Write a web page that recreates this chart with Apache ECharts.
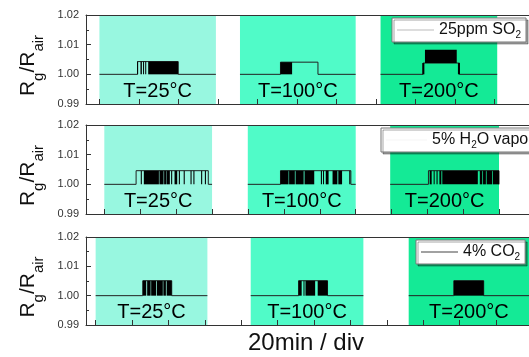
<!DOCTYPE html>
<html>
<head>
<meta charset="utf-8">
<script src="https://cdn.jsdelivr.net/npm/echarts@6/dist/echarts.min.js"></script>
<style>
  html, body { margin: 0; padding: 0; background: #fff; }
  #chart { width: 529px; height: 357px; }
</style>
</head>
<body>
<div id="chart"></div>
<script>
// gas per panel (top to bottom)
const gasNames = ['25ppm SO2', '5% H2O vapor', '4% CO2'];
const tempLabels = ['T=25°C', 'T=100°C', 'T=200°C'];

// time axis, minutes (20 min / div)
const xRanges = [[-6.8, 217.6], [-10.2, 236.5], [-5.3, 238.1]];
const xTicks = [0, 20, 40, 60, 80, 100, 120, 140, 160, 180, 200, 220];
const yTicks = [0.99, 1.00, 1.01, 1.02];

// heated windows [start, end] per panel
const regions1 = [[0, 59], [71.2, 129.8], [142.4, 201.5]];
const regions2 = [[0, 60], [79.9, 140], [159.2, 219.8]];
const regions3 = [[0, 61.4], [85.2, 147.1], [172, 240]];

// Rg/Rair trace, '-' breaks the line between windows
const signal1 = [
  [0, 1], [19.3, 1], [19.3, 1.0043], [39.9, 1.0043], [39.9, 1], [59, 1], ['-', '-'],
  [71.2, 1], [91.7, 1], [91.7, 1.0041], [110.7, 1.0041], [110.7, 1], [129.8, 1], ['-', '-'],
  [142.4, 1], [163.9, 1], [163.9, 1.0038], [182.4, 1.0038], [182.4, 1], [201.5, 1]
];
const signal2 = [
  [0, 1], [17.7, 1], [17.7, 1.0046], [57.9, 1.0046], [57.9, 1], [60, 1], ['-', '-'],
  [79.9, 1], [98.1, 1], [98.1, 1.0046], [137.3, 1.0046], [137.3, 1], [140, 1], ['-', '-'],
  [159.2, 1], [180.5, 1], [180.5, 1.0046], [219.8, 1.0046], [219.8, 1]
];
const signal3 = [
  [0, 1], [25.9, 1], [25.9, 1.0051], [41.8, 1.0051], [41.8, 1], [61.4, 1], ['-', '-'],
  [85.2, 1], [111.5, 1], [111.5, 1.0051], [127.4, 1.0051], [127.4, 1], [147.1, 1], ['-', '-'],
  [172, 1], [196.8, 1], [196.8, 1.0051], [213.2, 1.0051], [213.2, 1], [240, 1]
];

// dense switching bursts drawn solid: [t0, t1, low, high]
const bursts1 = [
  [19.1, 19.6, 1, 1.0043], [20.8, 21.5, 1, 1.0043], [22.1, 22.6, 1, 1.0043],
  [23.2, 23.7, 1, 1.0043], [24.7, 39.9, 1, 1.0043],
  [91.7, 97.6, 1, 1.0041],
  [163.6, 164.6, 1, 1.0038], [181.6, 182.6, 1, 1.0038], [164.9, 181.0, 1.0038, 1.0083]
];
const bursts2 = [
  [20.3, 20.9, 1, 1.0046], [22.0, 30.4, 1, 1.0046], [30.7, 33.0, 1, 1.0046],
  [33.3, 34.4, 1, 1.0046], [34.6, 36.5, 1, 1.0046], [37.2, 37.8, 1, 1.0046],
  [39.1, 40.6, 1, 1.0046], [41.5, 42.1, 1, 1.0046], [44.2, 44.8, 1, 1.0046],
  [48.0, 48.6, 1, 1.0046], [49.6, 50.2, 1, 1.0046], [53.9, 54.5, 1, 1.0046],
  [56.0, 56.6, 1, 1.0046],
  [98.1, 102.6, 1, 1.0046], [102.9, 106.1, 1, 1.0046], [106.5, 111.0, 1, 1.0046],
  [111.5, 116.9, 1, 1.0046], [120.6, 121.2, 1, 1.0046], [121.8, 122.3, 1, 1.0046],
  [123.3, 124.9, 1, 1.0046], [127.1, 129.8, 1, 1.0046], [130.3, 132.4, 1, 1.0046],
  [136.4, 137.0, 1, 1.0046],
  [181.2, 182.3, 1, 1.0046], [183.4, 183.9, 1, 1.0046], [185.0, 185.6, 1, 1.0046],
  [186.6, 187.7, 1, 1.0046], [188.2, 208.0, 1, 1.0046], [209.1, 210.5, 1, 1.0046],
  [210.9, 212.5, 1, 1.0046], [212.9, 215.9, 1, 1.0046], [216.3, 219.8, 1, 1.0046]
];
const bursts3 = [
  [25.9, 27.8, 1, 1.0051], [28.3, 30.2, 1, 1.0051], [30.5, 33.3, 1, 1.0051],
  [33.7, 36.9, 1, 1.0051], [37.2, 38.6, 1, 1.0051], [39.0, 41.8, 1, 1.0051],
  [111.5, 113.2, 1, 1.0051], [114.2, 114.6, 1, 1.0051], [115.3, 120.6, 1, 1.0051],
  [122.0, 127.4, 1, 1.0051],
  [196.8, 213.2, 1, 1.0051]
];

const regions = [regions1, regions2, regions3];
const signals = [signal1, signal2, signal3];
const bursts = [bursts1, bursts2, bursts3];

const FONT = '"Liberation Sans", Arial, sans-serif';
const tempColors = ['#98f7e0', '#50fbc8', '#14ea96'];
const gridTops = [15, 125, 237];
const gridHeights = [89, 89, 88];
const legendPos = [[392, 18], [381, 128], [416, 240]];
const legendIconWidth = [37, 41, 37];
const legendIconColors = ['#bbbbbb', '#f6f6f6', '#444444'];

const chart = echarts.init(document.getElementById('chart'), null, { renderer: 'canvas' });

const panels = [0, 1, 2];

const xAxes = panels.map(i => ({
  type: 'value',
  gridIndex: i,
  min: xRanges[i][0],
  max: xRanges[i][1],
  splitNumber: 11,
  z: 10,
  axisLine: { show: true, onZero: false, lineStyle: { color: '#333', width: 1 } },
  axisTick: { show: true, inside: true, length: 5, customValues: xTicks, lineStyle: { color: '#333' } },
  axisLabel: { show: false },
  splitLine: { show: false }
})).concat(panels.map(i => ({
  type: 'value',
  gridIndex: i,
  position: 'top',
  min: xRanges[i][0],
  max: xRanges[i][1],
  z: 10,
  axisLine: { show: true, onZero: false, lineStyle: { color: '#333', width: 1 } },
  axisTick: { show: false },
  axisLabel: { show: false },
  splitLine: { show: false }
})));

const yAxes = panels.map(i => ({
  type: 'value',
  gridIndex: i,
  min: yTicks[0],
  max: yTicks[yTicks.length - 1],
  interval: 0.01,
  z: 10,
  axisLine: { show: true, onZero: false, lineStyle: { color: '#333', width: 1 } },
  axisTick: { show: true, inside: true, length: 5, lineStyle: { color: '#333' } },
  minorTick: { show: true, splitNumber: 2, length: 3, lineStyle: { color: '#333' } },
  axisLabel: {
    margin: 7, fontSize: 11, color: '#333', fontFamily: FONT,
    formatter: v => v.toFixed(2)
  },
  splitLine: { show: false },
  name: '{m|R}{sub|g}{m|/R}{sub|air}',
  nameLocation: 'middle',
  nameRotate: 90,
  nameGap: 40,
  nameTextStyle: {
    fontSize: 21, color: '#111', fontFamily: FONT,
    padding: [0, 12, 0, 0],
    rich: {
      m: { fontSize: 21, color: '#111', fontFamily: FONT, lineHeight: 22, verticalAlign: 'top' },
      sub: { fontSize: 15, color: '#111', fontFamily: FONT, lineHeight: 16, verticalAlign: 'top', padding: [14, 0, 0, 0] }
    }
  }
}));

const lineSeries = panels.map(i => ({
  type: 'line',
  name: gasNames[i],
  xAxisIndex: i,
  yAxisIndex: i,
  data: signals[i],
  showSymbol: false,
  symbol: 'none',
  z: 4,
  color: '#222',
  lineStyle: { color: '#222', width: 1 },
  markArea: {
    silent: true,
    label: {
      show: true, position: 'insideBottom', distance: 3,
      color: '#000', fontSize: 20, fontFamily: FONT
    },
    data: regions[i].map((r, k) => [
      { name: tempLabels[k], xAxis: r[0], itemStyle: { color: tempColors[k] } },
      { xAxis: r[1] }
    ])
  }
}));

const burstSeries = panels.map(i => ({
  type: 'custom',
  xAxisIndex: i,
  yAxisIndex: i,
  z: 5,
  silent: true,
  encode: { x: [0, 1], y: [2, 3] },
  data: bursts[i],
  renderItem: (params, api) => {
    const a = api.coord([api.value(0), api.value(3)]);
    const b = api.coord([api.value(1), api.value(2)]);
    return {
      type: 'rect',
      shape: { x: a[0], y: a[1], width: Math.max(b[0] - a[0], 1), height: b[1] - a[1] },
      style: { fill: '#000' }
    };
  }
}));

const legends = panels.map(i => ({
  data: [{ name: gasNames[i], itemStyle: { color: legendIconColors[i] } }],
  left: legendPos[i][0],
  top: legendPos[i][1],
  orient: 'horizontal',
  icon: 'rect',
  itemWidth: legendIconWidth[i],
  itemHeight: 1,
  padding: [2, 5, 2, 5],
  backgroundColor: '#fff',
  borderColor: '#777',
  borderWidth: 1,
  shadowColor: 'rgba(0,0,0,0.35)',
  shadowOffsetX: 2,
  shadowOffsetY: 2,
  shadowBlur: 0,
  selectedMode: false,
  z: 20,
  formatter: name => name.replace(/([A-Z])2/, '$1{sub|2}'),
  textStyle: {
    fontSize: 16, color: '#111', fontFamily: FONT, lineHeight: 20,
    rich: { sub: { fontSize: 10, color: '#111', fontFamily: FONT, lineHeight: 10, verticalAlign: 'bottom' } }
  }
}));

chart.setOption({
  animation: false,
  backgroundColor: '#fff',
  title: {
    text: '20min / div',
    left: 248,
    top: 331,
    padding: 0,
    textStyle: { fontSize: 24, fontWeight: 'normal', color: '#111', fontFamily: FONT }
  },
  legend: legends,
  grid: panels.map(i => ({
    left: 86, top: gridTops[i], width: 460, height: gridHeights[i], containLabel: false
  })),
  xAxis: xAxes,
  yAxis: yAxes,
  series: lineSeries.concat(burstSeries)
});
</script>
</body>
</html>
